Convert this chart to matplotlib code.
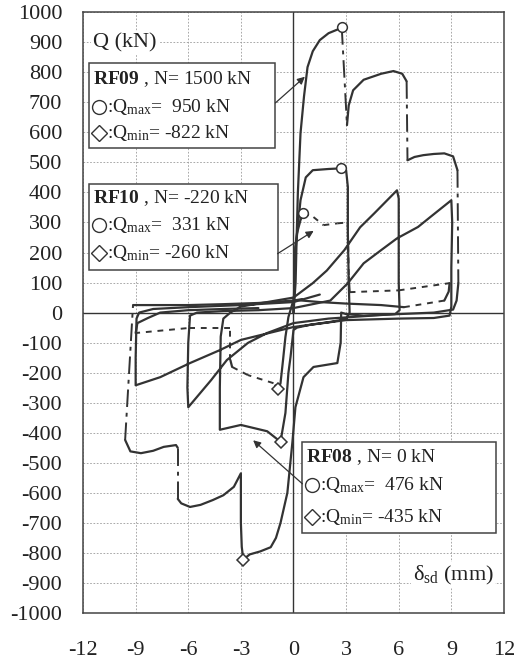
import matplotlib
matplotlib.use('Agg')
import matplotlib.pyplot as plt
from matplotlib.patches import Rectangle

plt.rcParams['font.family'] = ['Liberation Serif', 'DejaVu Serif']
plt.rcParams['mathtext.fontset'] = 'custom'
plt.rcParams['mathtext.rm'] = 'Liberation Serif'
plt.rcParams['mathtext.it'] = 'Liberation Serif:italic'
plt.rcParams['mathtext.bf'] = 'Liberation Serif:bold'
plt.rcParams['axes.unicode_minus'] = False

# each specimen: list of traced pieces (drawn solid), consecutive pieces are
# joined by a broken line (gaps in the recorded data)
rf09_x = [
    [0, 0.12, 0.18, 0.25, 0.4, 0.6, 0.8, 1.1, 1.5, 2.0, 2.5, 2.75],
    [3.05, 3.15, 3.4, 4.0, 5.0, 5.7, 6.2, 6.45],
    [6.5, 6.9, 7.4, 8.0, 8.6, 9.1, 9.35],
    [9.4, 9.3, 9.1, 8.0, 6.0, 4.0, 3.0, 2.72, 2.69, 2.5, 1.14, 0.57, 0.11, -0.06,
     -0.35, -0.74, -1.0, -1.3, -1.9, -2.5, -2.86, -2.95, -3.0, -3.0, -3.0,
     -3.4, -4.0, -4.6, -5.3, -5.9, -6.4, -6.6],
    [-6.6, -6.7, -7.4, -8.0, -8.7, -9.3, -9.6],
    [-9.15, -8.0, -6.0, -4.0, -2.0, 0.0, 0.5],
]
rf09_q = [
    [0, 100, 250, 400, 597, 720, 817, 870, 907, 930, 942, 950],
    [624, 690, 740, 775, 795, 804, 795, 770],
    [507, 518, 524, 528, 530, 520, 474],
    [98, 40, 10, 0, -5, -10, -5, 0, -100, -168, -181, -215, -315, -430,
     -600, -700, -750, -781, -795, -805, -822, -780, -700, -600, -535,
     -580, -608, -624, -640, -647, -635, -620],
    [-450, -441, -447, -460, -468, -462, -424],
    [25, 25, 25, 28, 32, 40, 45],
]

rf10_x = [
    [0, 0.05, 0.1, 0.2, 0.4, 0.57],
    [1.14], [1.71], [2.5], [3.09],
    [3.15, 3.2], [6.0],
    [8.9, 8.85, 8.6],
    [6.3, 5.0, 3.0, 1.5, 0.5, 0.0, -0.29, -0.46, -0.6, -0.74, -0.86],
    [-1.14], [-2.6], [-3.5, -3.6], [-3.6], [-6.1],
    [-9.0, -8.9, -8.3, -7.6, -6.0, -4.0, -2.0],
]
rf10_q = [
    [0, 80, 218, 264, 308, 331],
    [318], [291], [297], [300],
    [118, 68], [74],
    [98, 70, 40],
    [18, 25, 30, 35, 40, 42, -15, -81, -160, -235, -255],
    [-235], [-208], [-181, -158], [-52], [-52],
    [-68, -35, -18, 0, 8, 12, 15],
]

rf08_x = [[
    0, 0.05, 0.1, 0.4, 0.7, 1.1, 2.0, 2.69, 3.0, 3.1, 3.1, 3.15, 3.2, 3.0, 2.0,
    1.0, 0.2, 0.0, -0.17, -0.29, -0.46, -0.74, -1.5, -3.0, -4.2, -4.2, -4.15,
    -4.0, -3.6, -3.0, -1.5, 0.0, 1.1, 1.9, 2.9, 3.8, 4.6, 5.9, 6.0, 6.0, 6.0,
    6.05, 5.8, 4.0, 2.0, 0.0, -1.5, -2.6, -3.8, -4.7, -6.0, -6.05, -6.0, -5.9,
    -5.5, -4.0, -2.0, 0.0, 2.1, 3.1, 4.0, 5.0, 5.9, 7.1, 7.8, 9.0, 9.05, 9.0,
    9.0, 8.9, 8.0, 6.0, 3.0, 0.0, -3.0, -4.2, -5.9, -7.6, -9.0, -9.0, -8.95,
    -8.8, -8.0, -6.0, -3.0, 0.0, 1.5,
]]
rf08_q = [[
    0, 100, 200, 374, 450, 474, 478, 480, 474, 418, 265, 98, 0, -22, -32,
    -40, -50, -58, -148, -201, -334, -430, -395, -374, -390, -250, -80,
    -20, 0, 20, 35, 50, 98, 140, 208, 284, 330, 407, 380, 250, 100,
    8, -5, -12, -20, -35, -68, -101, -158, -225, -315, -250, -100, -10,
    0, 5, 8, 15, 40, 98, 164, 208, 247, 285, 318, 374, 300, 150,
    20, -10, -18, -20, -25, -48, -91, -125, -168, -215, -242, -150, -20,
    0, 12, 18, 25, 35, 60,
]]

names = ['RF09', 'RF10', 'RF08']
axial = ['1500', '-220', '0']
qmax = ['950', '331', '476']
qmin = ['-822', '-260', '-435']

ink = '#333333'
fig = plt.figure(figsize=(5.19, 6.61), dpi=100)
ax = fig.add_axes([0.16, 0.0726, 0.811, 0.909])


def draw(xs, qs, dash):
    for i in range(len(xs)):
        ax.plot(xs[i], qs[i], color=ink, lw=1.6, solid_joinstyle='round',
                solid_capstyle='round', zorder=3)
        if i + 1 < len(xs):
            ax.plot([xs[i][-1], xs[i + 1][0]], [qs[i][-1], qs[i + 1][0]],
                    color=ink, lw=1.4, linestyle=dash, zorder=3)
    fx = [v for p in xs for v in p]
    fq = [v for p in qs for v in p]
    imax = fq.index(max(fq))
    imin = fq.index(min(fq))
    ax.plot(fx[imax], fq[imax], 'o', ms=7, mfc='white', mec=ink, mew=1.1, zorder=4)
    ax.plot(fx[imin], fq[imin], 'D', ms=6, mfc='white', mec=ink, mew=1.1, zorder=4)


draw(rf09_x, rf09_q, (0, (9, 3, 2, 3)))
draw(rf10_x, rf10_q, (0, (3, 3)))
draw(rf08_x, rf08_q, '-')

ax.set_xlim(-12, 12)
ax.set_ylim(-1000, 1000)
ax.set_xticks(range(-12, 13, 3))
ax.set_yticks(range(-1000, 1001, 100))
ax.grid(True, color='#9a9a9a', lw=0.6, linestyle=(0, (2, 2)))
ax.set_axisbelow(True)
ax.axhline(0, color=ink, lw=1.0, zorder=2)
ax.axvline(0, color=ink, lw=1.0, zorder=2)
ax.tick_params(length=0, labelsize=16, colors='#222222')
ax.tick_params(axis='x', pad=20)
ax.tick_params(axis='y', pad=15)
for s in ax.spines.values():
    s.set_color('#444444')
    s.set_linewidth(1.1)

ax.text(-9.6, 897, 'Q (kN)', fontsize=16, ha='center', va='center', color='#222222',
        bbox=dict(facecolor='white', edgecolor='none', pad=1.5), zorder=5)
ax.text(9.1, -874, 'δ$_{\\mathrm{sd}}$ (mm)', fontsize=16, ha='center', va='center',
        color='#222222', bbox=dict(facecolor='white', edgecolor='none', pad=1.0), zorder=5)

# annotation boxes: (left, bottom, right, top) and text rows, in data units
boxes = [(-11.66, 547, -1.03, 830), (-11.66, 141, -0.91, 428), (0.51, -734, 11.54, -431)]
rows = [(777, 684, 597), (381, 291, 198), (-481, -574, -681)]
arrows = [((-1.03, 698), (0.65, 785)), ((-0.91, 196), (1.15, 272)), ((0.51, -570), (-2.3, -425))]

for k in range(3):
    x0, y0, x1, y1 = boxes[k]
    ax.add_patch(Rectangle((x0, y0), x1 - x0, y1 - y0, facecolor='white',
                           edgecolor='#444444', lw=1.1, zorder=6))
    tx = x0 + 0.2
    r1, r2, r3 = rows[k]
    ax.text(tx, r1, '$\\mathbf{%s}$ , N= %s kN' % (names[k], axial[k]), fontsize=14,
            va='center', ha='left', color='#222222', zorder=7)
    ax.plot(tx + 0.35, r2, 'o', ms=10, mfc='white', mec='#333333', mew=1.0, zorder=7)
    ax.plot(tx + 0.35, r3, 'D', ms=8, mfc='white', mec='#333333', mew=1.0, zorder=7)
    ax.text(tx + 0.8, r2, ':Q$_{\\mathrm{max}}$=  %s kN' % qmax[k], fontsize=14,
            va='center', ha='left', color='#222222', zorder=7)
    ax.text(tx + 0.8, r3, ':Q$_{\\mathrm{min}}$= %s kN' % qmin[k], fontsize=14,
            va='center', ha='left', color='#222222', zorder=7)
    (ax0, ay0), (ax1, ay1) = arrows[k]
    ax.annotate('', xy=(ax1, ay1), xytext=(ax0, ay0), zorder=7,
                arrowprops=dict(arrowstyle='-|>', color='#333333', lw=0.9,
                                mutation_scale=11, shrinkA=0, shrinkB=0))

fig.savefig('out.png', dpi=100)
